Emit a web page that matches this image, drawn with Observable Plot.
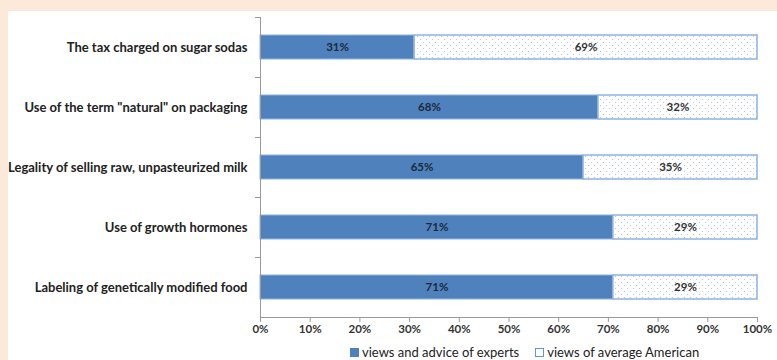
<!DOCTYPE html>
<html>
<head>
<meta charset="utf-8">
<script src="https://cdn.jsdelivr.net/npm/d3@7"></script>
<script src="https://cdn.jsdelivr.net/npm/@observablehq/plot@0.6"></script>
<style>
  html, body { margin: 0; padding: 0; }
  body { width: 777px; height: 360px; background: #fde9d9; position: relative; overflow: hidden; font-family: Lato, "Open Sans", sans-serif; }
  #panel { position: absolute; left: 8px; top: 11px; width: 769px; height: 349px; background: #fff; }
  #legend { position: absolute; left: 342px; top: 333px; display: flex; gap: 16px; font-size: 13px; color: #222; font-family: Lato, sans-serif; }
  #legend span.item { display: flex; align-items: center; gap: 3px; }
  #legend i { display: inline-block; width: 9px; height: 9px; box-sizing: border-box; }
</style>
</head>
<body>
<div id="panel"></div>
<script>
const categories = [
  "The tax charged on sugar sodas",
  "Use of the term \"natural\" on packaging",
  "Legality of selling raw, unpasteurized milk",
  "Use of growth hormones",
  "Labeling of genetically modified food"
];
const experts = [31, 68, 65, 71, 71];
const american = [69, 32, 35, 29, 29];
const seriesNames = ["views and advice of experts", "views of average American"];
const xTicks = [0, 10, 20, 30, 40, 50, 60, 70, 80, 90, 100];

const expertRows = categories.map((c, i) => ({category: c, x1: 0, x2: experts[i], value: experts[i]}));
const americanRows = categories.map((c, i) => ({category: c, x1: experts[i], x2: experts[i] + american[i], value: american[i]}));

const chart = Plot.plot({
  width: 769,
  height: 325,
  marginLeft: 252,
  marginRight: 20,
  marginTop: 6,
  marginBottom: 19,
  style: {fontFamily: "Lato, sans-serif", background: "transparent"},
  x: {domain: [0, 100]},
  y: {domain: categories, paddingInner: 0.6, paddingOuter: 0.3},
  marks: [
    Plot.barX(expertRows, {x1: "x1", x2: "x2", y: "category", fill: "#4f81bd", stroke: "#8db3e2", strokeWidth: 1}),
    Plot.barX(americanRows, {x1: "x1", x2: "x2", y: "category", fill: "url(#dots)", stroke: "#8db3e2", strokeWidth: 1.5}),
    Plot.text(expertRows, {x: d => (d.x1 + d.x2) / 2, y: "category", text: d => d.value + "%", fill: "#1b2a3c", fontWeight: "bold", fontSize: 11.5}),
    Plot.text(americanRows, {x: d => (d.x1 + d.x2) / 2, y: "category", text: d => d.value + "%", fill: "#333", fontWeight: "bold", fontSize: 11.5}),
    Plot.frame({anchor: "left", stroke: "#9a9a9a"}),
    Plot.frame({anchor: "bottom", stroke: "#9a9a9a"}),
    Plot.axisX({ticks: xTicks, tickFormat: d => d + "%", tickSize: 5, tickPadding: 2, stroke: "#9a9a9a", fill: "#333", fontWeight: "bold", fontSize: 11.5, label: null}),
    Plot.axisY({tickSize: 0, tickPadding: 13, fill: "#222", fontWeight: "bold", fontSize: 13, label: null}),
    Plot.axisY({tickSize: 5, text: null, dy: -30, stroke: "#9a9a9a", label: null})
  ]
});

const defs = d3.select(chart).insert("defs", ":first-child");
const pat = defs.append("pattern").attr("id", "dots").attr("patternUnits", "userSpaceOnUse").attr("width", 6).attr("height", 6);
pat.append("rect").attr("width", 6).attr("height", 6).attr("fill", "#fff");
pat.append("circle").attr("cx", 1.5).attr("cy", 1.5).attr("r", 0.6).attr("fill", "#b3bfcc");
pat.append("circle").attr("cx", 4.5).attr("cy", 4.5).attr("r", 0.6).attr("fill", "#b3bfcc");

document.getElementById("panel").appendChild(chart);

const legend = d3.select("#panel").append("div").attr("id", "legend");
const styles = [
  {background: "#4f81bd", border: "1px solid #4f81bd"},
  {background: "#fff", border: "1px solid #5b9bd5"}
];
seriesNames.forEach((s, i) => {
  const item = legend.append("span").attr("class", "item");
  item.append("i").style("background", styles[i].background).style("border", styles[i].border);
  item.append("span").text(s);
});
</script>
</body>
</html>
